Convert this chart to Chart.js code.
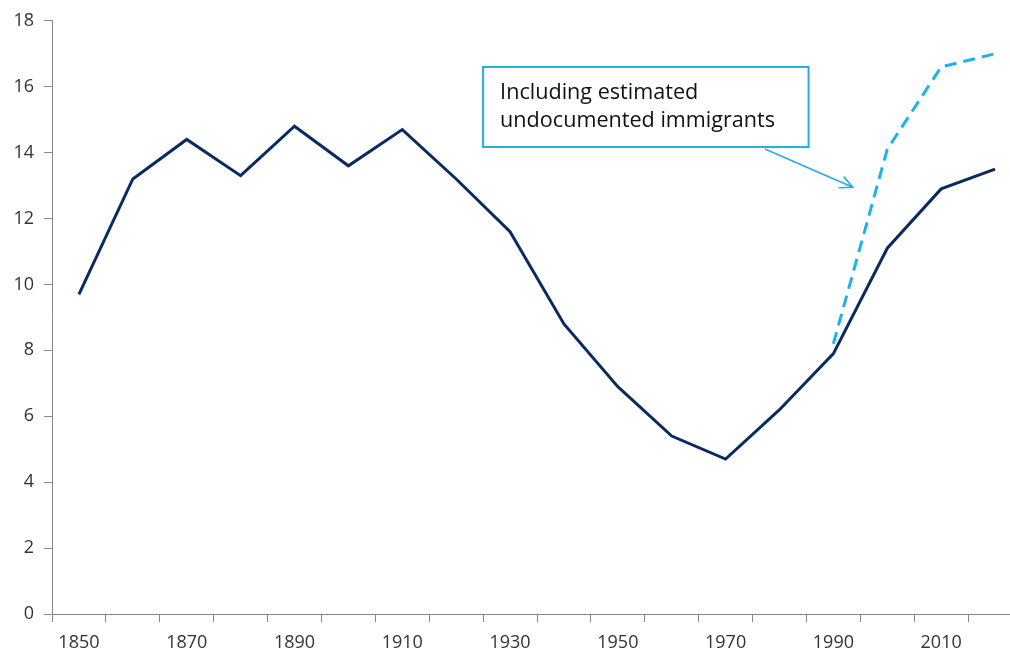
<!DOCTYPE html>
<html>
<head>
<meta charset="utf-8">
<script src="https://cdn.jsdelivr.net/npm/chart.js@4"></script>
<style>
html, body { margin: 0; padding: 0; background: #fff; overflow: hidden; width: 1010px; height: 650px; }
#wrap { position: absolute; left: 0; top: 0; width: 1022px; height: 650px; }
</style>
</head>
<body>
<div id="wrap"><canvas id="chart"></canvas></div>
<script>
years = ["1850", "1860", "1870", "1880", "1890", "1900", "1910", "1920", "1930",
         "1940", "1950", "1960", "1970", "1980", "1990", "2000", "2010", "2020"];
foreignBorn = [9.7, 13.2, 14.4, 13.3, 14.8, 13.6, 14.7, 13.2, 11.6,
               8.8, 6.9, 5.4, 4.7, 6.2, 7.9, 11.1, 12.9, 13.5];
withUndocumented = [null, null, null, null, null, null, null, null, null,
                    null, null, null, null, null, 8.2, 14.1, 16.6, 17.0];
yTicks = [0, 2, 4, 6, 8, 10, 12, 14, 16, 18];
noteLines = ["Including estimated", "undocumented immigrants"];

var axisGray = "#898989";
var textGray = "#333333";
var noteBlue = "#25ade4";

// callout box + arrow, placed in data units so it follows the scales
var noteBox = { x0: 7.5, x1: 13.54, yTop: 16.6, yBottom: 14.17 };
var noteArrow = { fromX: 12.73, fromY: 14.11, toX: 14.36, toY: 12.95 };

var calloutPlugin = {
    id: "callout",
    afterDatasetsDraw: function(chart) {
        var ctx = chart.ctx;
        var xs = chart.scales.x, ys = chart.scales.y;
        var left = xs.getPixelForValue(noteBox.x0), right = xs.getPixelForValue(noteBox.x1);
        var top = ys.getPixelForValue(noteBox.yTop), bottom = ys.getPixelForValue(noteBox.yBottom);
        ctx.save();
        ctx.fillStyle = "#fff";
        ctx.fillRect(left, top, right - left, bottom - top);
        ctx.strokeStyle = noteBlue;
        ctx.lineWidth = 2;
        ctx.strokeRect(left, top, right - left, bottom - top);

        // fit the longer line to the width seen in the picture
        ctx.font = "20px 'Open Sans'";
        var size = 20 * 275 / ctx.measureText(noteLines[1]).width;
        ctx.font = size.toFixed(1) + "px 'Open Sans'";
        ctx.fillStyle = "#111111";
        ctx.textBaseline = "alphabetic";
        ctx.fillText(noteLines[0], left + 17, top + 32);
        ctx.fillText(noteLines[1], left + 17, top + 60);

        var ax = xs.getPixelForValue(noteArrow.fromX), ay = ys.getPixelForValue(noteArrow.fromY);
        var bx = xs.getPixelForValue(noteArrow.toX), by = ys.getPixelForValue(noteArrow.toY);
        ctx.strokeStyle = noteBlue;
        ctx.lineWidth = 1.6;
        ctx.beginPath();
        ctx.moveTo(ax, ay);
        ctx.lineTo(bx, by);
        var ang = Math.atan2(by - ay, bx - ax);
        ctx.moveTo(bx - 14 * Math.cos(ang - 0.45), by - 14 * Math.sin(ang - 0.45));
        ctx.lineTo(bx, by);
        ctx.lineTo(bx - 14 * Math.cos(ang + 0.45), by - 14 * Math.sin(ang + 0.45));
        ctx.stroke();
        ctx.restore();
    }
};

document.addEventListener("DOMContentLoaded", function() {
    var ctx = document.getElementById("chart").getContext("2d");
    new Chart(ctx, {
        type: "line",
        data: {
            labels: years,
            datasets: [{
                label: "Foreign-born share",
                data: foreignBorn,
                borderColor: "#0c2a62",
                borderWidth: 3,
                pointRadius: 0,
                tension: 0,
                fill: false
            }, {
                label: "Including estimated undocumented immigrants",
                data: withUndocumented,
                borderColor: "#1db3ea",
                borderWidth: 3,
                borderDash: [12, 7],
                pointRadius: 0,
                tension: 0,
                fill: false
            }]
        },
        options: {
            responsive: true,
            maintainAspectRatio: false,
            animation: false,
            layout: { padding: { top: 18, right: 0, bottom: 0, left: 0 } },
            plugins: {
                legend: { display: false },
                tooltip: { enabled: false }
            },
            scales: {
                x: {
                    type: "category",
                    offset: true,
                    grid: { display: true, drawOnChartArea: false, drawTicks: true, tickLength: 8, color: axisGray, offset: true },
                    border: { display: true, color: axisGray, width: 1 },
                    ticks: {
                        autoSkip: false,
                        maxRotation: 0,
                        padding: 10,
                        color: textGray,
                        font: { family: "'Open Sans'", size: 18 },
                        callback: function(val, i) { return i % 2 === 0 ? years[i] : ""; }
                    },
                    afterFit: function(scale) { scale.height = 36; }
                },
                y: {
                    min: 0,
                    max: 18,
                    afterBuildTicks: function(scale) { scale.ticks = yTicks.map(function(v) { return { value: v }; }); },
                    grid: { display: true, drawOnChartArea: false, drawTicks: true, tickLength: 8, color: axisGray },
                    border: { display: true, color: axisGray, width: 1 },
                    ticks: {
                        padding: 10,
                        color: textGray,
                        font: { family: "'Open Sans'", size: 18 }
                    },
                    afterFit: function(scale) { scale.width = 52; }
                }
            }
        },
        plugins: [calloutPlugin]
    });
});
</script>
</body>
</html>
